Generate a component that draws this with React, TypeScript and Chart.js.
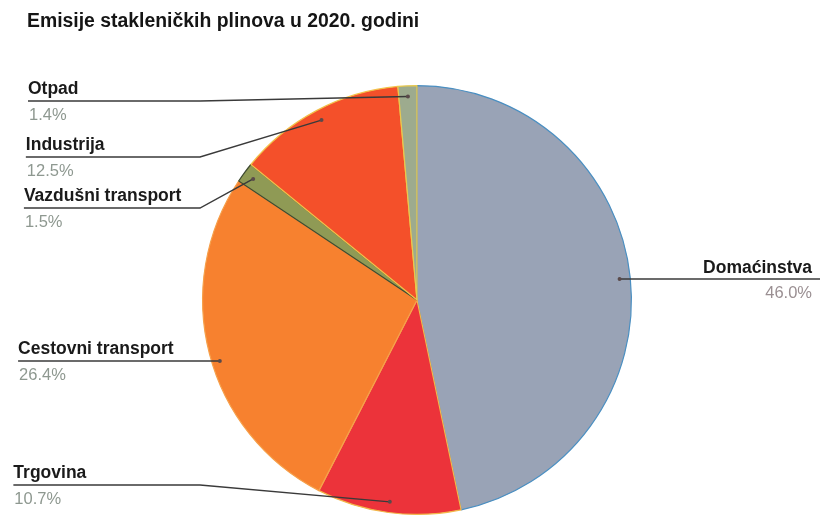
import React, { useEffect, useRef } from "react";
import { Chart, registerables } from "chart.js";

Chart.register(...registerables);

const titleText = "Emisije stakleničkih plinova u 2020. godini";
const categories = [
  "Domaćinstva",
  "Trgovina",
  "Cestovni transport",
  "Vazdušni transport",
  "Industrija",
  "Otpad",
];
const values = [46.0, 10.7, 26.4, 1.5, 12.5, 1.4];
const percentLabels = ["46.0%", "10.7%", "26.4%", "1.5%", "12.5%", "1.4%"];

const sliceColors = ["#99a3b6", "#ec333a", "#f7812f", "#8f9a55", "#f4502a", "#9dab8e"];
const sliceBorders = ["#4a8fc2", "#f2b84a", "#f6a04a", "#3e4a30", "#f2c24a", "#e9c94e"];

// label layout (leader line y for each slice)
const leaderLineY = [null, 485, 361, 208, 157, 101];

const labelPlugin = {
  id: "pieLabels",
  afterDraw(chart: any) {
    const ctx = chart.ctx;
    const meta = chart.getDatasetMeta(0);
    ctx.save();
    ctx.fillStyle = "#151515";
    ctx.font = "bold 19.4px 'Liberation Sans', Arial, sans-serif";
    ctx.textBaseline = "alphabetic";
    ctx.textAlign = "left";
    ctx.fillText(titleText, 27, 27);

    meta.data.forEach((arc: any, i: number) => {
      const p = arc.getProps(["x", "y", "startAngle", "endAngle", "outerRadius"], true);
      const mid = (p.startAngle + p.endAngle) / 2;
      let dx = p.x + Math.cos(mid) * p.outerRadius * 0.95;
      let dy = p.y + Math.sin(mid) * p.outerRadius * 0.95;
      ctx.strokeStyle = "#3a3a3a";
      ctx.lineWidth = 1.4;
      ctx.beginPath();
      if (Math.cos(mid) > 0) {
        ctx.moveTo(dx, dy);
        ctx.lineTo(820, dy);
        ctx.stroke();
        ctx.fillStyle = "#1a1a1a";
        ctx.font = "bold 17.5px 'Liberation Sans', Arial, sans-serif";
        ctx.textAlign = "right";
        ctx.fillText(categories[i], 812, dy - 6);
        ctx.fillStyle = "#9a8f92";
        ctx.font = "16.5px 'Liberation Sans', Arial, sans-serif";
        ctx.fillText(percentLabels[i], 812, dy + 19);
      } else {
        const ly = leaderLineY[i] as number;
        const lx = 28 - (ly - 100) * 0.038;
        if (Math.abs(dy - ly) < 14 && dx < 240) {
          dy = ly;
        }
        const elbow = Math.min(dx, 200);
        ctx.moveTo(lx, ly);
        ctx.lineTo(elbow, ly);
        ctx.lineTo(dx, dy);
        ctx.stroke();
        ctx.fillStyle = "#1a1a1a";
        ctx.font = "bold 17.5px 'Liberation Sans', Arial, sans-serif";
        ctx.textAlign = "left";
        ctx.fillText(categories[i], lx, ly - 7);
        ctx.fillStyle = "#8e9890";
        ctx.font = "16.5px 'Liberation Sans', Arial, sans-serif";
        ctx.fillText(percentLabels[i], lx + 1, ly + 19);
      }
      ctx.fillStyle = "#5a4a4a";
      ctx.beginPath();
      ctx.arc(dx, dy, 2, 0, Math.PI * 2);
      ctx.fill();
    });
    ctx.restore();
  },
};

export default function App() {
  const ref = useRef<HTMLCanvasElement>(null);
  useEffect(() => {
    if (!ref.current) return;
    const chart = new Chart(ref.current, {
      type: "pie",
      data: {
        labels: categories,
        datasets: [
          {
            data: values,
            backgroundColor: sliceColors,
            borderColor: sliceBorders,
            borderWidth: 1.2,
          },
        ],
      },
      options: {
        responsive: false,
        animation: false,
        layout: { padding: { top: 85, bottom: 4, left: 202, right: 190 } },
        plugins: {
          legend: { display: false },
          tooltip: { enabled: false },
          title: { display: false },
        },
      },
      plugins: [labelPlugin],
    });
    return () => chart.destroy();
  }, []);
  return (
    <div style={{ position: "absolute", left: 0, top: 0, width: 822, height: 519, background: "#fff" }}>
      <canvas ref={ref} width={822} height={519} />
    </div>
  );
}
